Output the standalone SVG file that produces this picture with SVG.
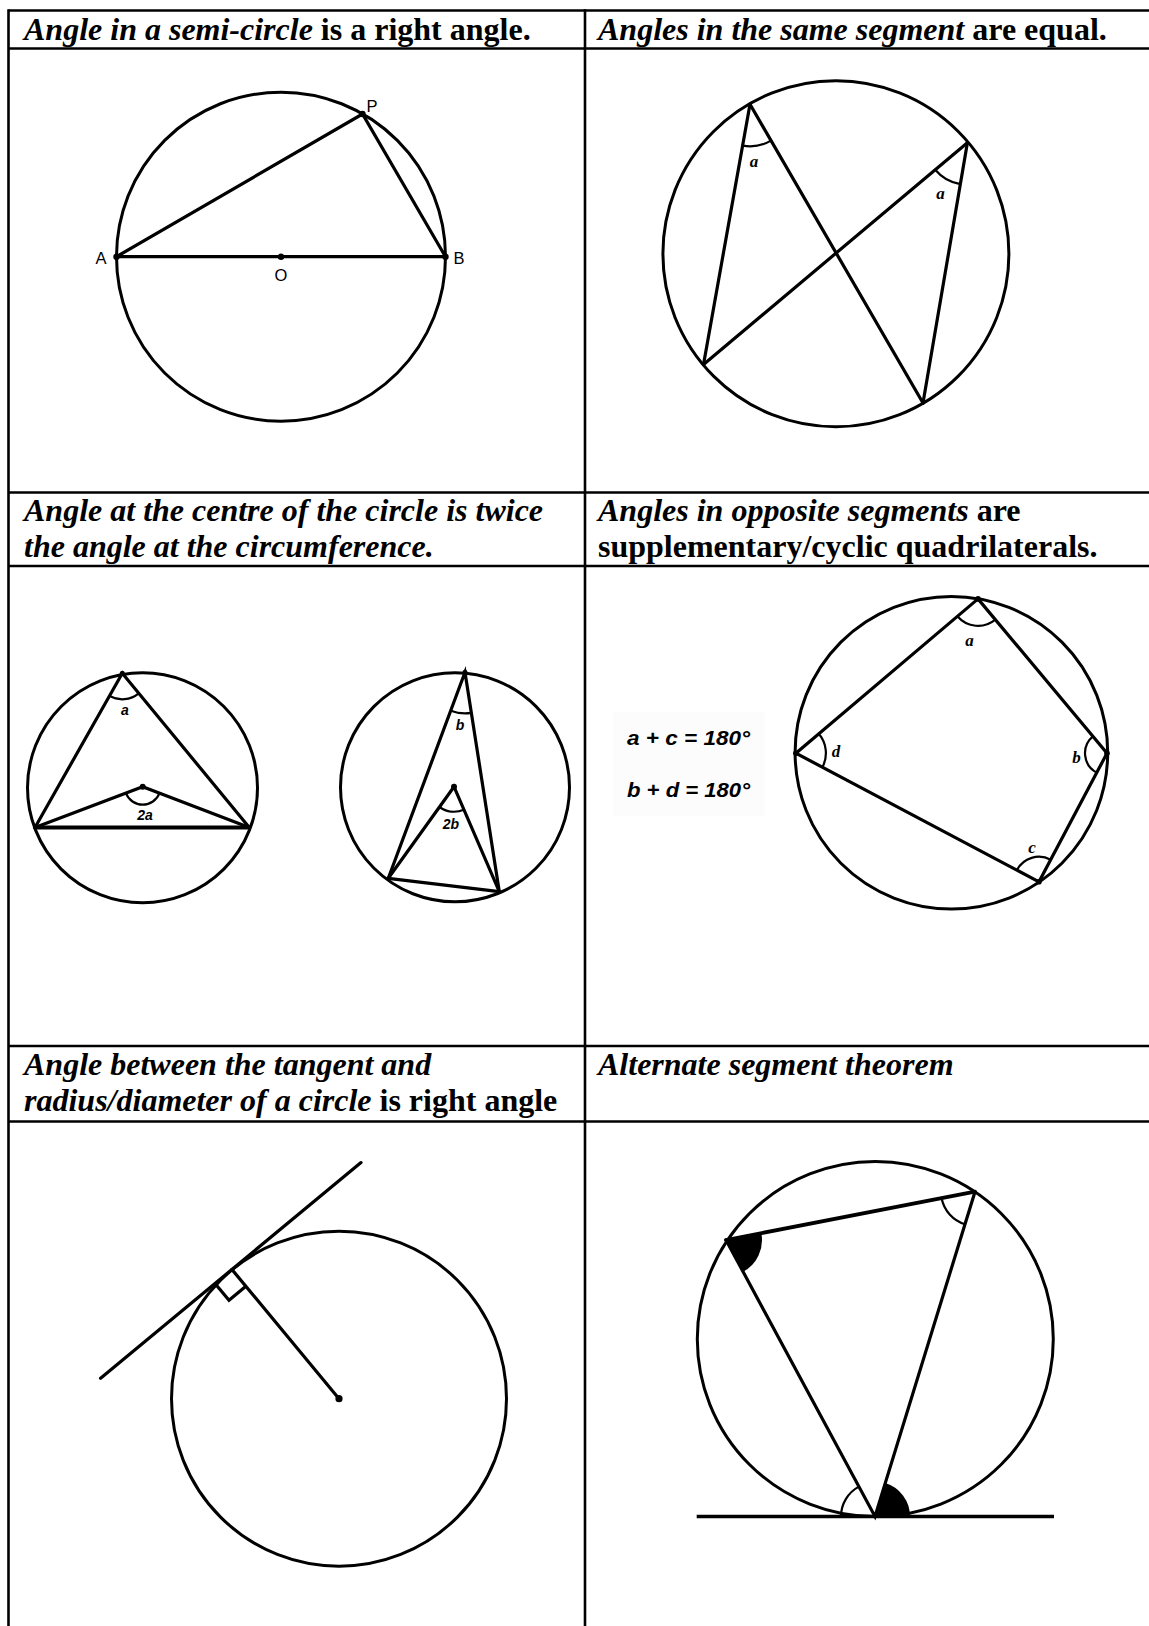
<svg xmlns="http://www.w3.org/2000/svg" width="1149" height="1626" viewBox="0 0 1149 1626">
<style>
.grid{stroke:#000;stroke-width:2.6;fill:none}
.hd{font-family:"Liberation Serif","Times New Roman",serif;font-size:32px;font-weight:bold;fill:#000}
.it{font-style:italic}
.c{fill:none;stroke:#000;stroke-width:3}
.ln{stroke:#000;stroke-width:3.2;fill:none;stroke-linecap:round}
.arc{fill:none;stroke:#000;stroke-width:2.2}
.dot{fill:#000}
.lbl{font-family:"Liberation Sans",Arial,sans-serif;font-size:16.5px;fill:#000;text-anchor:middle}
.al{font-family:"Liberation Serif","Times New Roman",serif;font-size:17px;font-weight:bold;font-style:italic;fill:#000;text-anchor:middle}
.as{font-family:"Liberation Sans",Arial,sans-serif;font-size:14px;font-weight:bold;font-style:italic;fill:#000;text-anchor:middle}
.eq{font-family:"Liberation Sans",Arial,sans-serif;font-size:21px;font-weight:bold;font-style:italic;fill:#000}
</style>
<rect x="0" y="0" width="1149" height="1626" fill="#fff"/>

<g id="table">
<line class="grid" x1="8.5" y1="10.5" x2="1149" y2="10.5"/>
<line class="grid" x1="8.5" y1="48.5" x2="1149" y2="48.5"/>
<line class="grid" x1="8.5" y1="492.5" x2="1149" y2="492.5"/>
<line class="grid" x1="8.5" y1="566" x2="1149" y2="566"/>
<line class="grid" x1="8.5" y1="1046" x2="1149" y2="1046"/>
<line class="grid" x1="8.5" y1="1121.5" x2="1149" y2="1121.5"/>
<line class="grid" x1="8.5" y1="9.2" x2="8.5" y2="1626"/>
<line class="grid" x1="585" y1="9.2" x2="585" y2="1626"/>
</g>

<g id="headers">
<text class="hd" x="24" y="39.5"><tspan class="it">Angle in a semi-circle</tspan> is a right angle.</text>
<text class="hd" x="598" y="39.5"><tspan class="it">Angles in the same segment</tspan> are equal.</text>
<text class="hd it" x="24" y="521">Angle at the centre of the circle is twice</text>
<text class="hd it" x="24" y="557">the angle at the circumference.</text>
<text class="hd" x="598" y="521"><tspan class="it">Angles in opposite segments</tspan> are</text>
<text class="hd" x="598" y="557">supplementary/cyclic quadrilaterals.</text>
<text class="hd it" x="24" y="1075">Angle between the tangent and</text>
<text class="hd" x="24" y="1111"><tspan class="it">radius/diameter of a circle</tspan> is right angle</text>
<text class="hd it" x="598" y="1075">Alternate segment theorem</text>
</g>

<g id="fig-semicircle">
<circle class="c" cx="281" cy="256.7" r="164.5"/>
<polyline class="ln" points="116.5,256.7 362.5,114 445.5,256.7"/>
<line class="ln" x1="116.5" y1="256.7" x2="445.5" y2="256.7"/>
<circle class="dot" cx="116.5" cy="256.7" r="3.2"/>
<circle class="dot" cx="445.5" cy="256.7" r="3.2"/>
<circle class="dot" cx="281" cy="256.7" r="3.2"/>
<circle class="dot" cx="362.5" cy="114" r="3.2"/>
<text class="lbl" x="101" y="263.5">A</text>
<text class="lbl" x="459" y="263.5">B</text>
<text class="lbl" x="281" y="280.5">O</text>
<text class="lbl" x="372" y="112">P</text>
</g>

<g id="fig-same-segment">
<circle class="c" cx="835.9" cy="253.8" r="173"/>
<line class="ln" x1="750" y1="104.3" x2="703.5" y2="364.5"/>
<line class="ln" x1="750" y1="104.3" x2="923" y2="403"/>
<line class="ln" x1="967.4" y1="142.7" x2="703.5" y2="364.5"/>
<line class="ln" x1="967.4" y1="142.7" x2="923" y2="403"/>
<path class="arc" d="M742.6,145.6 A42,42 0 0 0 771,140.6"/>
<path class="arc" d="M935.2,169.7 A42,42 0 0 0 960.3,184.1"/>
<text class="al" x="754" y="167">a</text>
<text class="al" x="940.5" y="199">a</text>
</g>

<g id="fig-centre-1">
<circle class="c" cx="142.5" cy="787.8" r="115"/>
<polyline class="ln" points="35,827.5 122.3,673.3 249.3,827.5"/>
<polyline class="ln" points="35,827.5 142.7,786.7 249.3,827.5"/>
<line class="ln" x1="35" y1="827.5" x2="249.3" y2="827.5" style="stroke-width:4"/>
<circle class="dot" cx="142.7" cy="786.7" r="3"/>
<circle class="dot" cx="122.3" cy="673.3" r="2.5"/>
<path class="arc" d="M109.5,695.9 A26,26 0 0 0 138.8,693.4"/>
<path class="arc" d="M125.9,793.1 A18,18 0 0 0 159.5,793.1"/>
<text class="as" x="125" y="715">a</text>
<text class="as" x="145" y="820">2a</text>
</g>

<g id="fig-centre-2">
<circle class="c" cx="455" cy="787.3" r="114.5"/>
<polyline class="ln" points="388.3,878.3 465,672.3 499.3,891.7"/>
<polyline class="ln" points="388.3,878.3 454,786.7 499.3,891.7"/>
<line class="ln" x1="388.3" y1="878.3" x2="499.3" y2="891.7"/>
<circle class="dot" cx="454" cy="786.7" r="3"/>
<circle class="dot" cx="465" cy="672.3" r="2.5"/>
<path class="arc" d="M450.7,710.7 A41,41 0 0 0 471.3,712.8"/>
<path class="arc" d="M439.4,807 A25,25 0 0 0 463.9,809.7"/>
<text class="as" x="460" y="730">b</text>
<text class="as" x="451" y="829">2b</text>
</g>

<g id="fig-cyclic">
<rect x="613" y="712" width="152" height="104" fill="#fcfcfc"/>
<text class="eq" x="627" y="744.5" textLength="123" lengthAdjust="spacingAndGlyphs">a + c = 180°</text>
<text class="eq" x="627" y="796.5" textLength="123" lengthAdjust="spacingAndGlyphs">b + d = 180°</text>
<circle class="c" cx="951.4" cy="752.7" r="156.3"/>
<polygon class="ln" points="978,598.9 1107,753.2 1039,881.8 795.9,753.2"/>
<circle class="dot" cx="978" cy="598.9" r="2.8"/>
<circle class="dot" cx="1107" cy="753.2" r="2.8"/>
<circle class="dot" cx="1039" cy="881.8" r="2.8"/>
<circle class="dot" cx="795.9" cy="753.2" r="2.8"/>
<path class="arc" d="M957.4,616.3 A27,27 0 0 0 995.3,619.6"/>
<path class="arc" d="M818.8,733.8 A30,30 0 0 1 822.4,767.2"/>
<path class="arc" d="M1092.9,736.3 A22,22 0 0 0 1096.7,772.6"/>
<path class="arc" d="M1016.9,870.1 A25,25 0 0 1 1050.7,859.7"/>
<text class="al" x="969.5" y="645.5">a</text>
<text class="al" x="836" y="757">d</text>
<text class="al" x="1076.5" y="763">b</text>
<text class="al" x="1032" y="852.5">c</text>
</g>

<g id="fig-tangent-radius">
<circle class="c" cx="339" cy="1398.7" r="167.5"/>
<line class="ln" x1="100.6" y1="1378.2" x2="361" y2="1162.6"/>
<line class="ln" x1="231.9" y1="1269.4" x2="339" y2="1398.7"/>
<polyline class="ln" points="215,1283.4 229,1300.3 245.9,1286.3" style="stroke-linecap:butt"/>
<circle class="dot" cx="339" cy="1398.7" r="3.6"/>
</g>

<g id="fig-alternate">
<ellipse class="c" cx="875.3" cy="1339" rx="178" ry="177.5"/>
<path d="M726,1240 L761.3,1233.1 A36,36 0 0 1 743.1,1271.7 Z" fill="#000"/>
<path d="M875,1516.5 L885.3,1483 A35,35 0 0 1 910,1516.5 Z" fill="#000"/>
<line class="ln" x1="726" y1="1240" x2="975" y2="1191.7" style="stroke-width:3.8"/>
<polyline class="ln" points="726,1240 875,1516.5 975,1191.7"/>
<line class="ln" x1="696.7" y1="1516.5" x2="1054" y2="1516.5" style="stroke-width:3.6;stroke-linecap:butt"/>
<path class="arc" d="M941.6,1198.2 A34,34 0 0 0 965,1224.2"/>
<path class="arc" d="M858.9,1486.6 A34,34 0 0 0 841,1516.5"/>
</g>
</svg>
